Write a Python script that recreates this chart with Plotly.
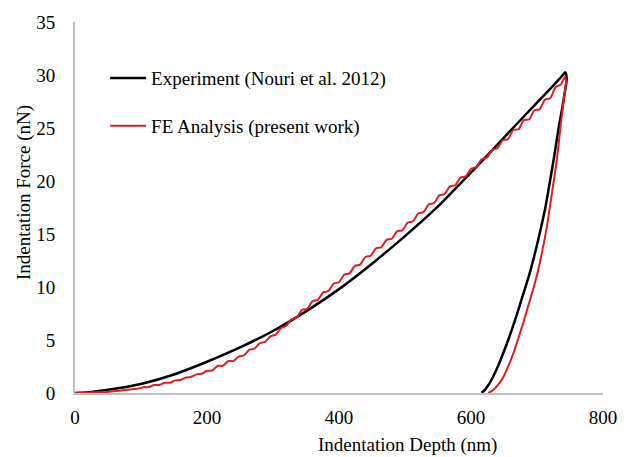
import plotly.graph_objects as go

# Experimental loading/unloading curve (Nouri et al. 2012)
exp_depth = [0, 25, 50, 75, 100, 150, 200, 250, 300, 350, 400, 450, 500, 550,
             600, 650, 700, 720, 735, 743,
             745, 742, 738, 733, 726, 720, 713, 705, 697, 688, 679, 670, 662,
             654, 646, 640, 634, 627, 621, 616]
exp_force = [0, 0.1, 0.3, 0.55, 0.85, 1.75, 2.95, 4.3, 5.85, 7.7, 9.8, 12.2, 14.8, 17.6,
             20.8, 24.1, 27.4, 28.7, 29.7, 30.25,
             29.6, 28.3, 26.8, 25.1, 22.3, 20.1, 17.6, 15.3, 13.2, 11.1, 9.3, 7.5, 6.0,
             4.6, 3.3, 2.4, 1.6, 0.8, 0.3, 0]

# Finite-element loading curve (present work)
fe_load_depth = [0, 24, 48, 72, 96,
                 104, 112, 120, 128, 136, 144, 152, 160, 168, 176, 184, 192,
                 200, 208, 216, 224, 232, 240, 248, 256, 264, 272, 280, 288, 296,
                 304, 312, 320, 328, 336, 344, 352, 360, 368, 376, 384, 392,
                 400, 408, 416, 424, 432, 440, 448, 456, 464, 472, 480, 488, 496,
                 504, 512, 520, 528, 536, 544, 552, 560, 568, 576, 584, 592,
                 600, 608, 616, 624, 632, 640, 648, 656, 664, 672, 680, 688, 696,
                 704, 712, 720, 728, 736, 742]
fe_load_force = [0, 0.05, 0.10, 0.25, 0.42,
                 0.55, 0.56, 0.76, 0.76, 0.97, 0.97, 1.19, 1.23, 1.47, 1.52, 1.76, 1.81,
                 2.10, 2.12, 2.55, 2.57, 3.00, 3.02, 3.44, 3.54, 4.06, 4.18, 4.70, 4.82, 5.34,
                 5.51, 6.12, 6.34, 6.96, 7.12, 7.84, 7.95, 8.67, 8.79, 9.50, 9.62, 10.33,
                 10.45, 11.17, 11.28, 12.00, 12.11, 12.83, 12.95, 13.65, 13.75, 14.45, 14.55, 15.25, 15.35,
                 16.07, 16.20, 16.93, 17.06, 17.79, 17.93, 18.65, 18.77, 19.49, 19.60, 20.32, 20.43,
                 21.15, 21.30, 22.05, 22.19, 22.94, 23.09, 23.84, 23.95, 24.81, 24.88, 25.74, 25.80, 26.67,
                 26.76, 27.68, 27.80, 28.85, 29.11, 29.80]

# Finite-element unloading curve
fe_unload_depth = [744, 741, 736, 730, 722, 715, 705, 697, 689, 680, 672, 664,
                   655, 648, 640, 633, 626]
fe_unload_force = [29.4, 27.9, 25.3, 22.0, 18.6, 15.7, 12.5, 10.4, 8.7, 6.8, 5.2, 3.7,
                   2.3, 1.4, 0.7, 0.25, 0]

x_ticks = [0, 200, 400, 600, 800]
y_ticks = [0, 5, 10, 15, 20, 25, 30, 35]

serif = "Liberation Serif, Times New Roman, serif"
axis_grey = "#bfbfbf"
fe_red = "#dc1f26"

fig = go.Figure()
fig.add_trace(go.Scatter(
    x=exp_depth, y=exp_force, mode="lines",
    name="Experiment (Nouri et al. 2012)",
    line=dict(color="#000000", width=2.5, shape="spline", smoothing=0.6),
    legendgroup="exp",
))
fig.add_trace(go.Scatter(
    x=fe_load_depth + fe_unload_depth, y=fe_load_force + fe_unload_force,
    mode="lines", name="FE Analysis (present work)",
    line=dict(color=fe_red, width=2, shape="spline", smoothing=0.6),
    legendgroup="fe",
))

fig.update_layout(
    width=633, height=457,
    margin=dict(l=75, r=30, t=20, b=64),
    paper_bgcolor="white", plot_bgcolor="white",
    font=dict(family=serif, size=19, color="#000000"),
    showlegend=True,
    legend=dict(
        x=0.057, y=0.90, xanchor="left", yanchor="top",
        bgcolor="rgba(0,0,0,0)", borderwidth=0,
        font=dict(family=serif, size=19, color="#000000"),
        tracegroupgap=20, itemwidth=36,
    ),
    xaxis=dict(
        range=[0, 800], tickvals=x_ticks, ticktext=[str(v) for v in x_ticks],
        showgrid=False, zeroline=False, showline=True,
        linecolor=axis_grey, linewidth=2, ticks="", ticklabelstandoff=6,
        fixedrange=True,
    ),
    yaxis=dict(
        range=[0, 35], tickvals=y_ticks, ticktext=[str(v) for v in y_ticks],
        showgrid=False, zeroline=False, showline=True,
        linecolor=axis_grey, linewidth=2, ticks="", ticklabelstandoff=14,
        fixedrange=True,
    ),
    annotations=[
        dict(text="Indentation Depth (nm)", xref="paper", yref="paper",
             x=(407 - 75) / 528, y=-(445 - 393) / 373,
             xanchor="center", yanchor="middle", showarrow=False,
             font=dict(family=serif, size=19, color="#000000")),
        dict(text="Indentation Force (nN)", xref="paper", yref="paper",
             x=-(75 - 24) / 528, y=(393 - 192) / 373, textangle=-90,
             xanchor="center", yanchor="middle", showarrow=False,
             font=dict(family=serif, size=19, color="#000000")),
    ],
)

fig.write_html("out.html")
